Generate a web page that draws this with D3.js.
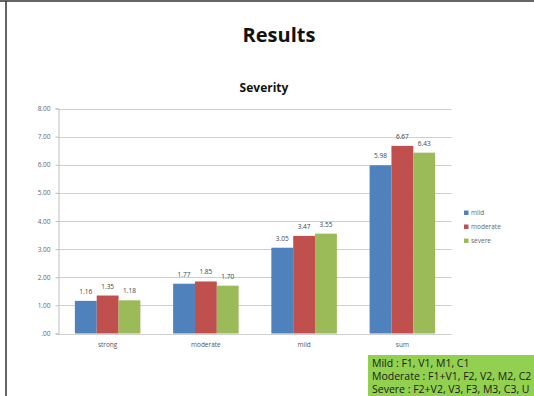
<!DOCTYPE html>
<html>
<head>
<meta charset="utf-8">
<script src="https://cdn.jsdelivr.net/npm/d3@7"></script>
<style>
  html, body { margin: 0; padding: 0; background: #fff; }
  svg { display: block; }
</style>
</head>
<body>
<svg id="chart" width="534" height="396"></svg>
<script>
// Severity scores per group
const categories = ["strong", "moderate", "mild", "sum"];
const seriesNames = ["mild", "moderate", "severe"];
const mildValues = [1.16, 1.77, 3.05, 5.98];
const moderateValues = [1.35, 1.85, 3.47, 6.67];
const severeValues = [1.18, 1.70, 3.55, 6.43];
const yTicks = [0, 1, 2, 3, 4, 5, 6, 7, 8];
const noteLines = [
  "Mild : F1, V1, M1, C1",
  "Moderate : F1+V1, F2, V2, M2, C2",
  "Severe : F2+V2, V3, F3, M3, C3, U"
];

const seriesValues = [mildValues, moderateValues, severeValues];
const colors = ["#4f81bd", "#c0504d", "#9bbb59"];
const font = "'Open Sans', 'DejaVu Sans', sans-serif";

const svg = d3.select("#chart");

// slide frame (top and left edges)
svg.append("line").attr("x1", 0).attr("x2", 534).attr("y1", 1).attr("y2", 1)
  .attr("stroke", "#333").attr("stroke-width", 1.5);
svg.append("line").attr("x1", 6).attr("x2", 6).attr("y1", 1).attr("y2", 396)
  .attr("stroke", "#333").attr("stroke-width", 1.5);

svg.append("text").attr("x", 279).attr("y", 42).attr("text-anchor", "middle")
  .attr("font-family", font).attr("font-weight", "bold").attr("font-size", 20)
  .attr("fill", "#111").text("Results");

svg.append("text").attr("x", 264).attr("y", 92).attr("text-anchor", "middle")
  .attr("font-family", font).attr("font-weight", "bold").attr("font-size", 12)
  .attr("fill", "#111").text("Severity");

const plot = { left: 58.5, right: 451.5, top: 108.5, bottom: 333.5 };

const x0 = d3.scaleBand().domain(categories).range([plot.left, plot.right]).paddingInner(0.333).paddingOuter(0.1667);
const x1 = d3.scaleBand().domain(seriesNames).range([0, x0.bandwidth()]);
const y = d3.scaleLinear().domain([0, 8]).range([plot.bottom, plot.top]);

// gridlines
svg.append("g").selectAll("line").data(yTicks).join("line")
  .attr("x1", plot.left).attr("x2", plot.right)
  .attr("y1", d => Math.round(y(d)) + 0.5).attr("y2", d => Math.round(y(d)) + 0.5)
  .attr("stroke", "#cfcfcf").attr("stroke-width", 1);

// y axis
const yAxis = d3.axisLeft(y).tickValues(yTicks).tickSize(3)
  .tickFormat(d => d === 0 ? ".00" : d3.format(".2f")(d));
const gy = svg.append("g").attr("transform", `translate(${plot.left},0)`).call(yAxis);
gy.select(".domain").attr("stroke", "#bdbdbd");
gy.selectAll(".tick line").attr("stroke", "#bdbdbd");
gy.selectAll(".tick text").attr("font-family", font).attr("font-size", 6.5)
  .attr("fill", "#666").attr("x", -8);

// bars
const groups = svg.append("g").selectAll("g").data(categories).join("g")
  .attr("transform", d => `translate(${x0(d)},0)`);

groups.selectAll("rect")
  .data((c, i) => seriesNames.map((s, j) => ({ s, v: seriesValues[j][i], j })))
  .join("rect")
  .attr("x", d => x1(d.s)).attr("width", x1.bandwidth())
  .attr("y", d => y(d.v)).attr("height", d => y(0) - y(d.v))
  .attr("fill", d => colors[d.j]);

groups.selectAll("text.val")
  .data((c, i) => seriesNames.map((s, j) => ({ s, v: seriesValues[j][i], j })))
  .join("text").attr("class", "val")
  .attr("x", d => x1(d.s) + x1.bandwidth() / 2).attr("y", d => y(d.v) - 7)
  .attr("text-anchor", "middle").attr("font-family", font).attr("font-size", 6.5)
  .attr("fill", "#444").text(d => d3.format(".2f")(d.v));

// category labels
svg.append("g").selectAll("text").data(categories).join("text")
  .attr("x", d => x0(d) + x0.bandwidth() / 2).attr("y", 347)
  .attr("text-anchor", "middle").attr("font-family", font).attr("font-size", 6.5)
  .attr("fill", "#555").text(d => d);

// legend
const legend = svg.append("g").selectAll("g").data(seriesNames).join("g")
  .attr("transform", (d, i) => `translate(464,${213 + i * 14})`);
legend.append("rect").attr("x", 0).attr("y", -2.5).attr("width", 4.5).attr("height", 4.5)
  .attr("fill", (d, i) => colors[i]);
legend.append("text").attr("x", 7).attr("y", 2).attr("font-family", font)
  .attr("font-size", 6.5).attr("fill", "#666").text(d => d);

// definition note
svg.append("rect").attr("x", 368).attr("y", 355).attr("width", 166).attr("height", 41)
  .attr("fill", "#92d050");
svg.append("g").selectAll("text").data(noteLines).join("text")
  .attr("x", 372).attr("y", (d, i) => 367 + i * 13)
  .attr("font-family", font).attr("font-size", 10.5).attr("fill", "#1a1a1a")
  .text(d => d);
</script>
</body>
</html>
